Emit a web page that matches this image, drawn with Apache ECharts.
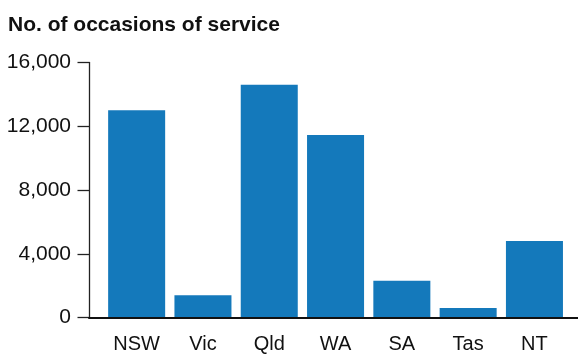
<!DOCTYPE html>
<html>
<head>
<meta charset="utf-8">
<script src="https://cdn.jsdelivr.net/npm/echarts@6/dist/echarts.min.js"></script>
<style>
html,body{margin:0;padding:0;background:#fff;}
#chart{width:578px;height:356px;}
</style>
</head>
<body>
<div id="chart"></div>
<script>
const titleText = 'No. of occasions of service';
const categories = ['NSW', 'Vic', 'Qld', 'WA', 'SA', 'Tas', 'NT'];
const occasions = [13000, 1400, 14600, 11450, 2300, 600, 4800];
const yMin = 0, yMax = 16000, yStep = 4000;

const FONT = '"Liberation Sans", Arial, sans-serif';
const chart = echarts.init(document.getElementById('chart'), null, {renderer: 'canvas'});
chart.setOption({
  animation: false,
  backgroundColor: '#ffffff',
  title: {
    text: titleText,
    left: 3, top: 10,
    textStyle: {fontFamily: FONT, fontSize: 21, fontWeight: 'bold', color: '#111'}
  },
  grid: [
    {left: 89, right: 0, top: 62.5, bottom: 38.5},
    {left: 103.5, right: 10.4, top: 62.5, bottom: 38.5}
  ],
  xAxis: [
    {
      gridIndex: 0, type: 'value', min: 0, max: 1, z: 5,
      axisLine: {show: true, lineStyle: {color: '#111', width: 2}},
      axisTick: {show: false}, axisLabel: {show: false}, splitLine: {show: false}
    },
    {
      gridIndex: 1, type: 'category', data: categories,
      axisLine: {show: false}, axisTick: {show: false}, splitLine: {show: false},
      axisLabel: {fontFamily: FONT, fontSize: 20, color: '#111', margin: 17}
    }
  ],
  yAxis: [
    {
      gridIndex: 0, type: 'value', min: yMin, max: yMax, interval: yStep, z: 4,
      axisLine: {show: true, lineStyle: {color: '#222', width: 1.3}},
      axisTick: {show: true, length: 11.5, lineStyle: {color: '#222', width: 1.3}},
      splitLine: {show: false},
      axisLabel: {
        fontFamily: FONT, fontSize: 21, color: '#111', margin: 18,
        padding: [5, 0, 0, 0],
        formatter: v => v.toLocaleString('en-US')
      }
    },
    {
      gridIndex: 1, type: 'value', min: yMin, max: yMax, interval: yStep, show: false
    }
  ],
  series: [{
    type: 'bar',
    xAxisIndex: 1, yAxisIndex: 1,
    data: occasions,
    barCategoryGap: '14%',
    itemStyle: {color: '#1479bb'}
  }]
});
</script>
</body>
</html>
